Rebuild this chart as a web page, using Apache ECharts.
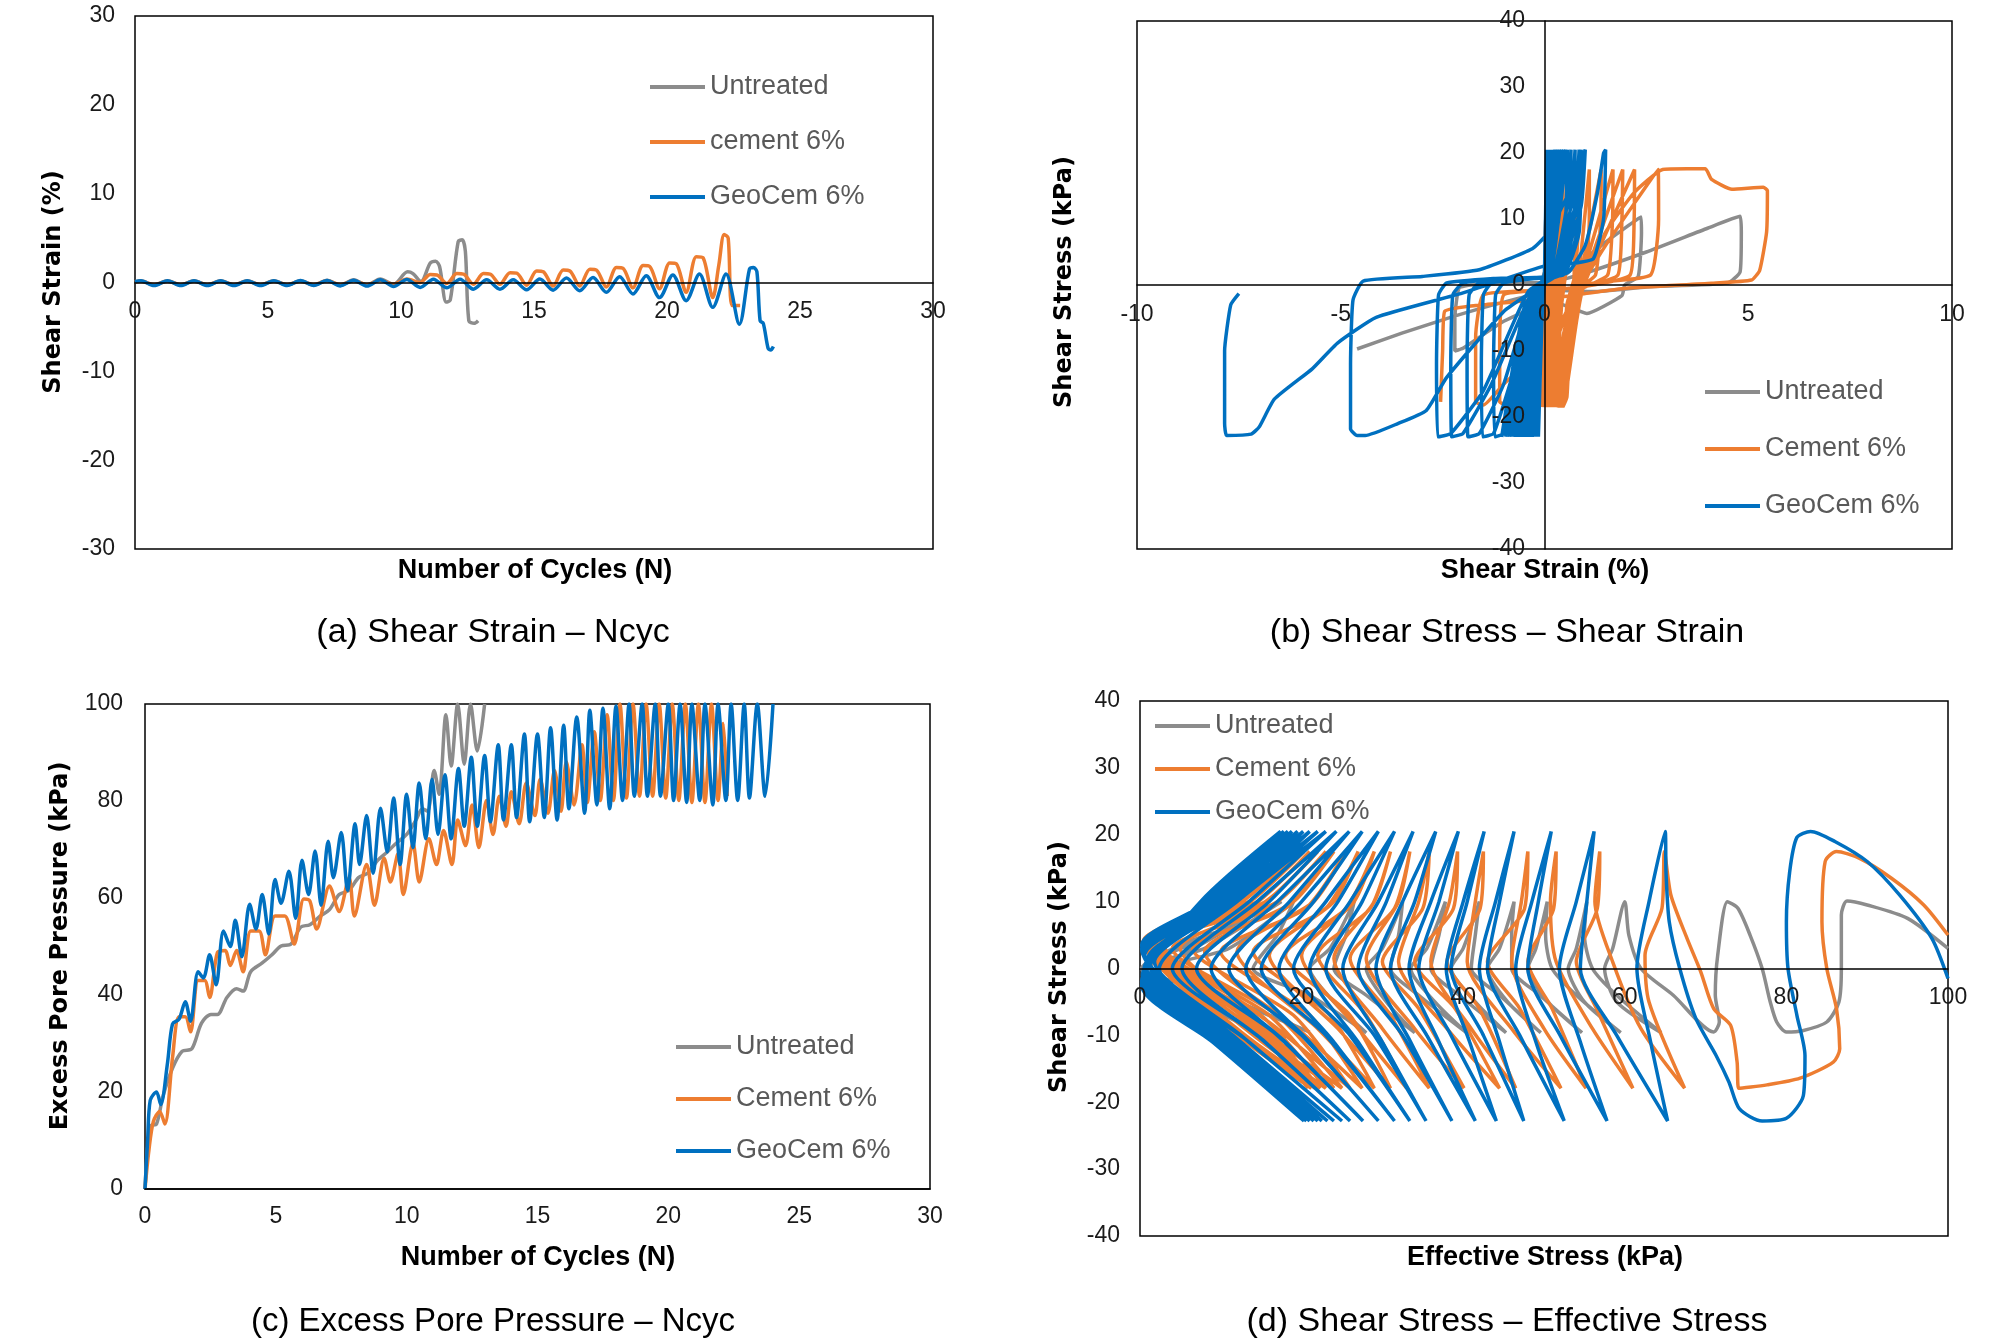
<!DOCTYPE html>
<html>
<head>
<meta charset="utf-8">
<title>Cyclic test results</title>
<script src="https://cdn.jsdelivr.net/npm/echarts@6/dist/echarts.min.js"></script>
<style>
html,body{margin:0;padding:0;background:#fff;}
#chart{width:2008px;height:1343px;}
</style>
</head>
<body>
<div id="chart"></div>
<script>
// (a) shear strain (%) vs number of cycles
var strainGray = [[0,0.1],[0.22,0.2],[0.72,-0.3],[1.22,0.2],[1.72,-0.3],[2.22,0.2],[2.72,-0.3],[3.22,0.2],[3.72,-0.3],[4.22,0.2],[4.72,-0.3],[5.22,0.2],[5.72,-0.3],[6.22,0.2],[6.72,-0.3],[7.22,0.25],[7.72,-0.3],[8.22,0.3],[8.72,-0.3],[9.22,0.4],[9.72,-0.2],[10.25,1.2],[10.45,1.0],[10.75,0.1],[11.1,2.2],[11.3,2.4],[11.45,1.8],[11.7,-2.2],[11.85,-2.0],[12.15,4.6],[12.3,4.8],[12.42,3.5],[12.55,-4.3],[12.75,-4.6],[12.9,-4.3]];
var strainCement = [[0,0.05],[0.22,0.15],[0.72,-0.25],[1.22,0.15],[1.72,-0.25],[2.22,0.15],[2.72,-0.25],[3.22,0.15],[3.72,-0.25],[4.22,0.15],[4.72,-0.25],[5.22,0.15],[5.72,-0.25],[6.22,0.15],[6.72,-0.25],[7.22,0.2],[7.72,-0.25],[8.22,0.2],[8.72,-0.25],[9.22,0.25],[9.72,-0.2],[10.22,0.4],[10.72,0.0],[11.1,0.9],[11.35,0.85],[11.72,-0.1],[12.1,1.0],[12.35,0.95],[12.72,-0.2],[13.1,1.0],[13.35,0.95],[13.72,-0.2],[14.1,1.1],[14.35,1.05],[14.72,-0.3],[15.1,1.3],[15.35,1.2],[15.72,-0.4],[16.1,1.4],[16.35,1.3],[16.72,-0.4],[17.1,1.5],[17.35,1.4],[17.72,-0.5],[18.1,1.7],[18.35,1.6],[18.72,-0.6],[19.1,1.9],[19.35,1.8],[19.72,-0.7],[20.1,2.2],[20.35,2.1],[20.72,-1.1],[21.1,2.9],[21.35,2.8],[21.72,-1.7],[21.95,2.0],[22.15,5.4],[22.3,5.0],[22.45,-2.6],[22.75,-2.6]];
var strainGeo = [[0,0.1],[0.22,0.2],[0.72,-0.35],[1.22,0.2],[1.72,-0.35],[2.22,0.2],[2.72,-0.35],[3.22,0.2],[3.72,-0.35],[4.22,0.2],[4.72,-0.35],[5.22,0.2],[5.72,-0.35],[6.22,0.22],[6.72,-0.35],[7.22,0.22],[7.72,-0.38],[8.22,0.25],[8.72,-0.4],[9.22,0.3],[9.72,-0.45],[10.22,0.35],[10.72,-0.55],[11.22,0.37],[11.72,-0.6],[12.22,0.37],[12.72,-0.75],[13.22,0.3],[13.72,-0.75],[14.22,0.3],[14.72,-0.82],[15.22,0.4],[15.72,-0.86],[16.22,0.5],[16.72,-0.93],[17.22,0.55],[17.72,-1.1],[18.22,0.65],[18.72,-1.3],[19.22,0.75],[19.72,-1.7],[20.22,0.85],[20.72,-2.05],[21.22,0.95],[21.72,-2.8],[22.22,0.95],[22.72,-4.7],[23.1,1.5],[23.25,1.7],[23.38,1.2],[23.5,-4.3],[23.62,-4.6],[23.8,-7.4],[23.9,-7.6],[24.0,-7.2]];

// (b) shear stress (kPa) vs shear strain (%)
var loopGray = [[0,0],[0.03,10],[0.0,0],[-0.03,-10],[0.0,0],[0.06,10],[0.02,0],[-0.06,-10],[0.0,0],[0.1,10],[0.04,0],[-0.1,-10],[0,0],[0.15,10],[0.07,0],[-0.15,-10],[-0.02,0],[0.22,10],[0.1,0],[-0.22,-10],[-0.05,0],[0.32,10],[0.15,0],[-0.35,-10],[-0.1,0],[0.5,10],[0.3,0],[-0.6,-10],[-0.3,-1],[0.2,0],[0.6,2],[1.5,6.5],[2.37,10.3],[2.38,8],[2.3,1.3],[1.97,0],[1.9,-1.6],[1.04,-4.3],[0.2,-2.5],[-1.0,-5.5],[-2.0,-9.6],[-2.2,-10],[-2.2,-5],[-2.1,-0.5],[-1.8,0],[-0.5,0.3],[0.2,0.5],[0.9,1.6],[2.5,5],[4.0,8.6],[4.8,10.4],[4.83,8],[4.8,2],[4.5,0.3],[2.5,-0.3],[1.2,-1.0],[0.3,-0.8],[-1.0,-2.6],[-2.25,-4.8],[-3.5,-7.3],[-4.6,-9.7]];
var loopCement = [[0,0],[0.03,10],[0.05,17.5],[0.02,2],[0,-3],[-0.05,-18.5],[0.0,-3],[0.05,2],[0.08,17.5],[0.05,2],[0.0,-3],[-0.02,-18.5],[0.03,-3],[0.08,2],[0.12,17.5],[0.08,2],[0.03,-3],[0.0,-18.5],[0.06,-3],[0.12,2],[0.16,17.5],[0.12,2],[0.06,-3],[0.02,-18.5],[0.1,-3],[0.16,2],[0.2,17.5],[0.16,2],[0.1,-3],[0.05,-18.5],[0.14,-3],[0.2,2],[0.25,17.5],[0.2,2],[0.14,-3],[0.08,-18.5],[0.18,-3],[0.25,2],[0.3,17.5],[0.26,2],[0.2,-3],[0.1,-18.5],[0.22,-3],[0.3,2],[0.38,17.5],[0.34,2],[0.26,-3],[0.15,-18.5],[0.3,-3],[0.38,2],[0.45,17.5],[0.42,2],[0.34,-3],[0.2,-18.5],[0.38,-3],[0.48,2],[0.55,17.5],[0.52,2],[0.42,-3],[0.25,-18.5],
  [0.45,-8],[0.7,-1],[0.75,5],[0.82,17.5],[0.84,10],[0.75,1.5],[0.55,-3],[0.4,-17],[0.3,-18.5],
  [0.5,-8],[0.75,-1],[0.9,5],[1.1,17.5],[1.1,10],[1.0,1.5],[0.7,-1],[0.55,-5],[0.45,-17],[0.35,-18.5],
  [0.55,-8],[0.8,-1],[1.0,5],[1.39,17.5],[1.38,10],[1.25,1.5],[0.75,-1],[0.6,-5],[0.5,-17],[0.4,-18.5],
  [0.6,-8],[0.85,-1],[1.1,5],[1.68,17.5],[1.67,10],[1.55,1.5],[0.8,-1],[0.65,-5],[0.55,-17],[0.45,-18.5],
  [0.65,-8],[0.9,-1],[1.2,5],[1.92,17.5],[1.9,10],[1.8,1.5],[0.9,-0.3],[0,-0.8],[-1.0,-1.5],[-1.1,-8],[-1.1,-17.7],[-0.9,-18.2],[-0.5,-15],[0.3,-8],[0.7,-2],[0.9,0],
  [1.3,5],[2.21,17.5],[2.2,10],[2.1,1.5],[0.9,-0.3],[0,-0.8],[-1.5,-1.5],[-1.69,-8],[-1.69,-17.7],[-1.5,-18.2],[-1.0,-15],[0.2,-8],[0.7,-2],[0.9,0],
  [1.5,6],[2.79,17.5],[2.8,10],[2.6,1.5],[1.0,0],[0.8,-5],[0.5,-17.5],[0.4,-18.3],[0.5,-12],[0.8,-2],[1.0,0.5],[1.5,8],[2.2,14],[2.9,17.5],[3.5,17.6],[3.95,17.6],[4.1,16],[4.6,14.5],[5.37,14.8],[5.47,14.3],[5.45,8],[5.28,2.2],[5.08,0.75],[4.1,0.25],[2.0,-0.5],[1.0,-1.3],[0.2,-2],[-1.5,-3],[-2.45,-4],[-2.5,-10],[-2.55,-17.7]];
var loopGeo = [[0,0],[0.03,10],[0.05,20.5],[0.0,2],[-0.08,-3],[-0.15,-23],[-0.05,-3],[0.02,2],[0.08,20.5],[0.0,2],[-0.12,-3],[-0.2,-23],[-0.08,-3],[0.03,2],[0.1,20.5],[0.02,2],[-0.15,-3],[-0.25,-23],[-0.1,-3],[0.04,2],[0.13,20.5],[0.03,2],[-0.18,-3],[-0.3,-23],[-0.12,-3],[0.05,2],[0.16,20.5],[0.04,2],[-0.2,-3],[-0.36,-23],[-0.14,-3],[0.06,2],[0.19,20.5],[0.05,2],[-0.22,-3],[-0.42,-23],[-0.16,-3],[0.07,2],[0.22,20.5],[0.06,2],[-0.25,-3],[-0.48,-23],[-0.18,-3],[0.08,2],[0.25,20.5],[0.07,2],[-0.28,-3],[-0.55,-23],[-0.2,-3],[0.09,2],[0.29,20.5],[0.08,2],[-0.3,-3],[-0.62,-23],[-0.22,-3],[0.1,2],[0.33,20.5],[0.09,2],[-0.33,-3],[-0.7,-23],[-0.24,-3],[0.11,2],[0.37,20.5],[0.1,2],[-0.36,-3],[-0.78,-23],[-0.26,-3],[0.12,2],[0.42,20.5],[0.12,2],[-0.4,-3],[-0.86,-23],[-0.28,-3],[0.13,2],[0.47,20.5],[0.14,2],[-0.44,-3],[-0.95,-23],[-0.3,-3],[0.14,2],[0.52,20.5],[0.16,2],[-0.48,-3],[-1.05,-23],[-0.32,-3],[0.15,2],[0.56,20.5],
  [0.5,8],[0.2,1.5],[-0.5,0.8],[-1.0,0.3],[-1.2,-1.5],[-1.25,-12],[-1.22,-23],[-1.0,-22.5],[-0.6,-12],[-0.1,-1],[0.25,2.5],[0.55,12],[0.65,20.5],
  [0.6,8],[0.3,1.5],[-0.6,0.8],[-1.3,0.3],[-1.5,-1.5],[-1.55,-12],[-1.52,-23],[-1.25,-22.5],[-0.8,-14],[-0.2,-1],[0.3,2.5],[0.65,12],[0.75,20.5],
  [0.7,8],[0.35,1.5],[-0.8,0.8],[-1.6,0.3],[-1.85,-1.5],[-1.9,-12],[-1.88,-23],[-1.6,-22.5],[-1.0,-15],[-0.3,-1],[0.3,2.5],[0.75,12],[0.85,20.5],
  [0.8,8],[0.4,1.5],[-1.0,1],[-2.0,0.3],[-2.25,-1.5],[-2.3,-12],[-2.28,-23],[-2.0,-22.5],[-1.3,-15],[-0.3,-1],[0.35,2.5],[0.8,12],[0.9,20.5],
  [0.85,8],[0.45,1.5],[-1.2,1],[-2.4,0.3],[-2.6,-1.5],[-2.65,-12],[-2.62,-23],[-2.3,-22.5],[-1.5,-16],[-0.4,-1],[0.4,2.5],[0.9,12],[1.0,20.5],
  [0.6,14],[0.1,8],[-0.3,5.5],[-1.6,2.3],[-3.0,1.3],[-4.45,0.6],[-4.7,-2.3],[-4.76,-12],[-4.76,-21.8],[-4.6,-22.8],[-4.4,-22.8],[-3.6,-21],[-2.9,-19],[-2.4,-14],[-1.0,-4],[-0.3,-1],[0.2,1],[0.6,2],[1.0,6],[1.3,14],[1.45,20],[1.5,20.5],[1.45,10],[1.2,4],[0.6,3.2],[0,2.9],[-2.0,-1.2],[-4.13,-4.9],[-5.08,-8.8],[-5.7,-12.7],[-6.63,-17.3],[-7.0,-21.5],[-7.2,-22.6],[-7.8,-22.8],[-7.85,-21],[-7.85,-10],[-7.7,-3],[-7.5,-1.3]];

// (c) excess pore pressure (kPa) vs number of cycles
var poreGray = [[0,0],[0.2,13],[0.44,13.4],[0.69,19.2],[1.05,24.9],[1.42,28.4],[1.79,28.9],[2.16,34.2],[2.52,36],[2.77,36],[3.13,39.5],[3.5,41.3],[3.75,40.8],[4.04,44.8],[4.48,46.6],[4.85,48.3],[5.2,50.1],[5.58,50.5],[5.95,54],[6.3,54.5],[6.7,56.3],[7.05,57.6],[7.42,60.7],[7.8,61.6],[8.16,64.2],[8.5,65.1],[8.9,67.8],[9.26,69.5],[9.6,71.3],[10.0,73.1],[10.36,76.1],[10.6,78.4],[10.8,77.9],[11.05,86.3],[11.24,81.4],[11.5,97.8],[11.7,87.2],[11.95,100],[12.2,87.6],[12.44,100],[12.7,90.3],[12.98,100]];
var poreCement = [[0,0],[0.15,8],[0.32,13.9],[0.56,16],[0.76,13.4],[1.05,27],[1.3,35.5],[1.54,35.5],[1.74,32.4],[2.03,43],[2.28,43],[2.47,39.5],[2.77,48.8],[3.06,49.2],[3.26,46.1],[3.5,49.2],[3.75,44.8],[4.04,53.2],[4.36,53.2],[4.6,48.3],[4.97,56.3],[5.34,56.3],[5.7,50.5],[6.07,59.8],[6.3,59.4],[6.56,53.6],[7.05,62.5],[7.42,57.2],[7.8,64.2],[8.0,56.3],[8.47,66.9],[8.77,58.5],[9.14,68.2],[9.38,63.3],[9.67,69.1],[9.87,60.7],[10.24,71.3],[10.48,63.3],[10.85,72.2],[11.14,66.9],[11.41,73.9],[11.73,66.9],[11.95,76.1],[12.25,70.8],[12.5,79.2],[12.76,70.4],[13.05,80.1],[13.3,73.1],[13.54,81],[13.8,74.8],[14.0,81.9],[14.3,75.3],[14.57,83.7],[14.9,77],[15.1,84.5],[15.4,77.5],[15.65,86.3],[15.9,77.9],[16.1,88.1],[16.4,79.2],[16.7,91.6],[16.9,79.7],[17.17,94.3],[17.4,80.1],[17.66,97.8],[17.9,80.1],[18.15,100],[18.4,80.6],[18.65,100],[18.9,81],[19.15,100],[19.4,81],[19.65,100],[19.9,80.6],[20.15,100],[20.4,80.1],[20.65,100],[20.9,79.7],[21.15,100],[21.4,79.7],[21.65,100],[21.9,80.1],[22.1,96],[22.25,81]];
var poreGeo = [[0,0],[0.1,10],[0.2,18.3],[0.44,20],[0.6,17.4],[0.86,26],[1.05,34],[1.3,35],[1.54,38.6],[1.74,34.6],[2.03,44.8],[2.23,43.5],[2.47,48.3],[2.72,42.1],[3.0,53.2],[3.26,50],[3.45,55.4],[3.7,47.9],[4.0,58.7],[4.24,53.6],[4.48,60.7],[4.73,52.6],[4.97,63.8],[5.2,58.9],[5.5,65.5],[5.76,55.8],[6.0,67.8],[6.25,60.7],[6.5,69.7],[6.73,58.5],[7.0,71.7],[7.2,64.2],[7.5,73.5],[7.74,61.6],[8.03,75.3],[8.2,66.9],[8.47,77],[8.72,65.1],[9.0,78.5],[9.26,69.5],[9.5,80.6],[9.75,66.9],[10.0,81.4],[10.24,70.4],[10.48,83.7],[10.73,72.2],[10.97,84.5],[11.2,73.1],[11.46,85.4],[11.7,72.2],[11.98,86.7],[12.2,74.8],[12.47,89],[12.7,74.8],[12.98,89.4],[13.2,75.7],[13.5,91.6],[13.7,76.1],[14.0,91.6],[14.2,76.6],[14.5,93.8],[14.7,75.7],[15.0,93.8],[15.26,76.6],[15.5,95.1],[15.75,76.1],[16.0,95.6],[16.2,78.4],[16.5,97.3],[16.8,77.5],[17.0,98.7],[17.27,79.2],[17.5,99.1],[17.76,78.4],[18.0,99.6],[18.25,80.1],[18.5,100],[18.7,81],[19.0,100],[19.2,81],[19.5,100],[19.7,81],[20.0,100],[20.2,80.1],[20.45,100],[20.7,79.7],[20.9,100],[21.2,80.1],[21.4,100],[21.7,79.2],[21.9,100],[22.2,80.1],[22.4,100],[22.65,80.1],[22.9,100],[23.1,80.6],[23.4,100],[23.7,81],[24.0,100]];

// (d) shear stress (kPa) vs effective stress (kPa)
var pathGray = [[100,3],[95,7.5],[90,9.5],[87.5,10.1],[86.8,8],[86.8,0],[86.5,-5],[85,-8],[82,-9.3],[80,-9.5],[78.8,-8],[78,-5],[77,0],[75.5,5],[74,9],[72.7,10],
  [71.5,2],[71.2,-4],[71.7,-8],[71,-9.5],[66,-4],[62,0],[60.5,5],[60,10],
  [58.5,3],[57.5,0],[59,-5],[64.5,-9.6],[59,-4],[56,0],[55,5],[55.3,10],
  [54,3],[53,0],[55,-5],[59.5,-9.6],[54,-4],[51,0],[50.2,5],[50.4,10],
  [49,3],[48,0],[50.5,-5],[54.7,-9.6],[49.5,-4],[46,0],[46,5],[46.3,10],
  [44.5,3],[43,0],[45.5,-5],[49.6,-9.6],[44.5,-4],[41,0],[41.5,5],[42,10],
  [40,3],[38.5,0],[41.5,-5],[45.3,-9.6],[39.5,-4],[36,0],[37,5],[37.8,10],
  [35.5,3],[33.5,0],[36.5,-5],[40.4,-9.6],[34.5,-4],[31,0],[32,5],[32.5,10],
  [30,3],[28,0],[30.5,-5],[34,-9.6],[28,-4],[24,0],[25.5,5],[26.5,10],
  [23.5,3],[21,0],[24,-5],[28,-9.6],[21,-4],[14,0],[17,5],[19,10],
  [11,3],[3,0],[12,-5],[21,-9.5],[10,-4],[0.5,0],[9,5],[17.5,10],
  [8,3],[0.3,0],[7,-5],[14,-9],[6,-4],[0.2,0],[6,4],[11,6],[5,2],[1,0.5]];
var pathCement = [[100,5],[97,9.5],[93,13.5],[89,16.5],[86.2,17.5],[84.8,16],[84.4,7],[85,0],[86.2,-6],[86.6,-12],[85.8,-14],[81.7,-16.4],[77.6,-17.4],[74.1,-17.9],[73.9,-14],[73.1,-8.5],[71,-6],[69.4,-0.5],[67.7,4.5],[65.7,11],[64.9,17.5],
  [64.6,9],[62.5,2],[63,-5],[67.4,-17.9],[62,-9],[58.5,1],[56.3,10],[56.9,17.5],
  [56.6,9],[54,1],[56.5,-6],[61,-17.9],[56,-9],[51.5,1],[50.8,10],[51.5,17.5],
  [51.2,9],[48,1],[51,-6],[55.2,-17.9],[50,-9],[46,1],[47.2,10],[48,17.5],
  [47.6,9],[43,1],[47,-6],[52.1,-17.9],[46,-9],[40.5,1],[41.5,10],[42.5,17.5],
  [42.1,9],[38,1],[42,-6],[46.5,-17.9],[41,-9],[36,1],[38.3,10],[39.3,17.5],
  [38.8,9],[34,1],[39,-6],[44.5,-17.9],[38,-9],[32,1],[34.5,10],[35.8,17.5],
  [35,9],[30,1],[34.5,-6],[40.1,-17.9],[34,-9],[28,1.5],[32,10],[33.4,17.5],
  [31.5,9],[26,1.5],[31,-7],[35.8,-17.9],[30,-9],[24,1.5],[29,10],[31,17.5],
  [28.5,9],[22,2],[28,-7],[33,-17.9],[27,-9],[20,2],[26.5,10],[29,17.5],
  [25.5,9],[18,2],[26,-7],[31,-17.9],[24.5,-9],[16,2],[24,10],[27,17.5],
  [23,9],[14,2.5],[23.5,-7],[29,-17.9],[22,-9],[12,2.5],[21.5,10],[25.5,17.5],
  [20.5,9],[10,2.5],[21,-7],[27.5,-17.9],[19.5,-9],[8,2.5],[19,10],[24,17.5],
  [18,9],[6.5,3],[19,-7],[26,-17.9],[17,-9],[5,3],[17,10],[23,17.5],
  [16,9],[4,3],[17,-7],[25,-17.9],[15,-9],[3,3.5],[15.5,10],[22,17.5],
  [14.5,9],[2.5,3.5],[16,-7],[24,-17.9],[14,-9],[2,3.5],[14.5,10],[21,17.5],
  [13.5,9],[1.5,4],[15,-7],[23,-17.9],[13,-9],[1.2,4],[13.5,10],[20.3,17.5],
  [12.5,9],[1,4],[14,-7],[22.3,-17.9],[12,-9],[0.8,4],[12.5,10],[19.7,17.5],
  [11.5,9],[0.7,4],[13.5,-7],[21.7,-17.9],[11.5,-9],[0.6,4],[12,10],[19.2,17.5],
  [11,9],[0.5,4],[13,-7],[21.2,-17.9],[11,-9],[0.4,4],[11.5,10],[18.8,17.5],
  [10.5,9],[0.4,4],[12.5,-7],[20.8,-17.9]];
var pathGeo = [[100,-1.5],[98,4.5],[94,11],[90,16],[86,19],[83,20.5],[81.3,19.6],[80.4,14.4],[80,7],[80.2,0],[81.3,-7],[82.3,-13],[82.1,-19],[80,-22.4],[77,-22.8],[74.2,-21],[72.9,-17],[71.3,-13],[68.8,-7.5],[66.8,0],[65.5,7],[65.1,14.4],[65,20.5],
  [63,10],[61.5,0],[63.2,-11],[65.3,-22.8],[59,-10],[54.5,0],[55.3,10],[56.2,20.5],
  [54,10],[51.9,0],[54.5,-11],[57.8,-22.8],[52,-10],[48,0],[49.3,10],[50.9,20.5],
  [48.5,10],[46.5,0],[49,-11],[52.5,-22.8],[47,-10],[43,0],[44.5,10],[46.3,20.5],
  [44,10],[42,0],[44.5,-11],[47.5,-22.8],[42.5,-10],[38.5,0],[40.5,10],[42.6,20.5],
  [40,10],[37.9,0],[40.8,-11],[44.1,-22.8],[38.5,-10],[34.5,0],[37,10],[39.4,20.5],
  [36,10],[33.3,0],[37,-11],[41.5,-22.8],[35.5,-10],[31,0],[34,10],[36.6,20.5],
  [32.5,10],[29.2,0],[33.5,-11],[38.6,-22.8],[32.5,-10],[27,0],[30.5,10],[33.8,20.5],
  [29.5,10],[25.1,0],[30,-11],[35.4,-22.8],[29,-10],[23,0],[27.5,10],[31.5,20.5],
  [26,10],[21,0],[27,-11],[33.4,-22.8],[26,-10],[19,0],[24.5,10],[29.5,20.5],
  [23,10],[17.2,0],[24,-11],[31.5,-22.8],[23,-10],[15,0],[21.5,10],[27.5,20.5],
  [20,10],[13.1,0],[21,-11],[29.5,-22.8],[20,-10],[11,0],[18.5,10],[25.9,20.5],
  [17,10],[8.8,0],[18,-11],[27.6,-22.8],[17,-10],[7,0],[16,10],[24.3,20.5],
  [14.5,10],[5.2,0],[15.5,-11],[26,-22.8],[14.5,-10],[4,0],[13.5,10],[23,20.5],
  [12,10],[2.4,0],[13.5,-11],[25,-22.8],[12.5,-10],[1.8,1],[12,10],[22,20.5],
  [11,10],[1.2,0.5],[12.5,-11],[24,-22.8],[11.5,-10],[1,1.5],[11.5,10],[21,20.5],
  [10.5,10],[0.7,0.5],[12,-11],[23.2,-22.8],[11,-10],[0.6,2],[11,10],[20.2,20.5],
  [10,10],[0.5,0],[11.5,-11],[22.5,-22.8],[10.5,-10],[0.5,2.5],[10.5,10],[19.5,20.5],
  [9.5,10],[0.4,-0.5],[11,-11],[22,-22.8],[10,-10],[0.4,2.5],[10,10],[18.8,20.5],
  [9,10],[0.3,-1],[10.5,-11],[21.5,-22.8],[9.5,-10],[0.3,3],[9.5,10],[18.3,20.5],
  [8.5,10],[0.3,-1.5],[10,-11],[21,-22.8],[9,-10],[0.2,3],[9,10],[17.8,20.5],
  [8,10],[0.2,-2],[9.5,-11],[20.6,-22.8],[8.5,-10],[0.2,3.5],[8.5,10],[17.4,20.5],
  [7.5,10],[0.2,-2.5],[9,-11],[20.3,-22.8]];

var GRAY = '#8c8c8c', ORANGE = '#ED7D31', BLUE = '#0070C0';
var FONT = 'Liberation Sans, Arial, sans-serif';

var myChart = echarts.init(document.getElementById('chart'));

// axes that cross at zero are moved into the plot with offset, so labels follow the line
function axisX(grid, min, max, step, offset, margin) {
    return {
        gridIndex: grid, type: 'value', min: min, max: max, interval: step,
        position: 'bottom', offset: offset, z: 5,
        axisLine: {show: true, onZero: false, lineStyle: {color: '#000', width: 1.5}},
        axisTick: {show: false}, splitLine: {show: false},
        axisLabel: {margin: margin, fontSize: 23, color: '#1a1a1a', fontFamily: FONT}
    };
}
function axisY(grid, min, max, step, offset, showLine, margin) {
    return {
        gridIndex: grid, type: 'value', min: min, max: max, interval: step,
        position: 'left', offset: offset, z: 5,
        axisLine: {show: showLine, onZero: false, lineStyle: {color: '#000', width: 1.5}},
        axisTick: {show: false}, splitLine: {show: false},
        axisLabel: {margin: margin, fontSize: 23, color: '#1a1a1a', fontFamily: FONT}
    };
}
function line(name, data, idx, color, smooth) {
    return {
        name: name, type: 'line', data: data, xAxisIndex: idx, yAxisIndex: idx,
        showSymbol: false, smooth: smooth, clip: true,
        lineStyle: {color: color, width: 3.5},
        itemStyle: {color: color}
    };
}
function legend(names, left, top, gap) {
    return {
        data: names, orient: 'vertical', left: left, top: top, icon: 'rect',
        itemWidth: 55, itemHeight: 4, itemGap: gap, selectedMode: false,
        textStyle: {fontSize: 27, color: '#595959', lineHeight: 30, fontFamily: FONT}
    };
}
function label(text, x, y, size, bold, rotate, family) {
    return {
        type: 'text', x: x, y: y, rotation: rotate ? Math.PI / 2 : 0,
        style: {text: text, fill: '#000', fontSize: size, fontWeight: bold ? 'bold' : 'normal',
                fontFamily: family || FONT, align: 'center', verticalAlign: 'middle'}
    };
}

var frame = {show: true, borderColor: '#000', borderWidth: 1.5, backgroundColor: 'transparent'};
var names = ['Untreated', 'Cement 6%', 'GeoCem 6%'];

var option = {
    animation: false,
    backgroundColor: '#fff',
    grid: [
        Object.assign({left: 135, top: 16, width: 798, height: 533}, frame),
        Object.assign({left: 1137, top: 21, width: 815, height: 528}, frame),
        Object.assign({left: 145, top: 704, width: 785, height: 485}, frame),
        Object.assign({left: 1140, top: 701, width: 808, height: 535}, frame)
    ],
    xAxis: [
        axisX(0, 0, 30, 5, -266.5, 18),
        axisX(1, -10, 10, 5, -264, 18),
        axisX(2, 0, 30, 5, 0, 16),
        axisX(3, 0, 100, 20, -267.5, 18)
    ],
    yAxis: [
        axisY(0, -30, 30, 10, 0, false, 20),
        axisY(1, -40, 40, 10, -408, true, 20),
        axisY(2, 0, 100, 20, 0, false, 22),
        axisY(3, -40, 40, 10, 0, false, 20)
    ],
    legend: [
        legend(['Untreated', 'cement 6%', 'GeoCem 6%'], 645, 67, 25),
        legend(names, 1700, 372, 27),
        legend(names, 671, 1027, 22),
        legend(names, 1150, 706, 13)
    ],
    series: [
        line('Untreated', strainGray, 0, GRAY, 0.3),
        line('cement 6%', strainCement, 0, ORANGE, 0.3),
        line('GeoCem 6%', strainGeo, 0, BLUE, 0.3),
        line('Untreated', loopGray, 1, GRAY, 0.15),
        line('Cement 6%', loopCement, 1, ORANGE, 0.15),
        line('GeoCem 6%', loopGeo, 1, BLUE, 0.15),
        line('Untreated', poreGray, 2, GRAY, 0.3),
        line('Cement 6%', poreCement, 2, ORANGE, 0.3),
        line('GeoCem 6%', poreGeo, 2, BLUE, 0.3),
        line('Untreated', pathGray, 3, GRAY, 0.25),
        line('Cement 6%', pathCement, 3, ORANGE, 0.25),
        line('GeoCem 6%', pathGeo, 3, BLUE, 0.25)
    ],
    graphic: [
        label('Number of Cycles (N)', 535, 571, 27, true),
        label('Shear Strain (%)', 1545, 571, 27, true),
        label('Number of Cycles (N)', 538, 1258, 27, true),
        label('Effective Stress (kPa)', 1545, 1258, 27, true),
        label('Shear Strain (%)', 54, 282, 24, true, true, 'DejaVu Sans'),
        label('Shear Stress (kPa)', 1065, 282, 24, true, true, 'DejaVu Sans'),
        label('Excess Pore Pressure (kPa)', 61, 946, 24, true, true, 'DejaVu Sans'),
        label('Shear Stress (kPa)', 1060, 967, 24, true, true, 'DejaVu Sans'),
        label('(a) Shear Strain \u2013 Ncyc', 493, 633, 34, false),
        label('(b) Shear Stress \u2013 Shear Strain', 1507, 633, 34, false),
        label('(c) Excess Pore Pressure \u2013 Ncyc', 493, 1322, 33, false),
        label('(d) Shear Stress \u2013 Effective Stress', 1507, 1322, 34, false)
    ]
};
myChart.setOption(option);
</script>
</body>
</html>
